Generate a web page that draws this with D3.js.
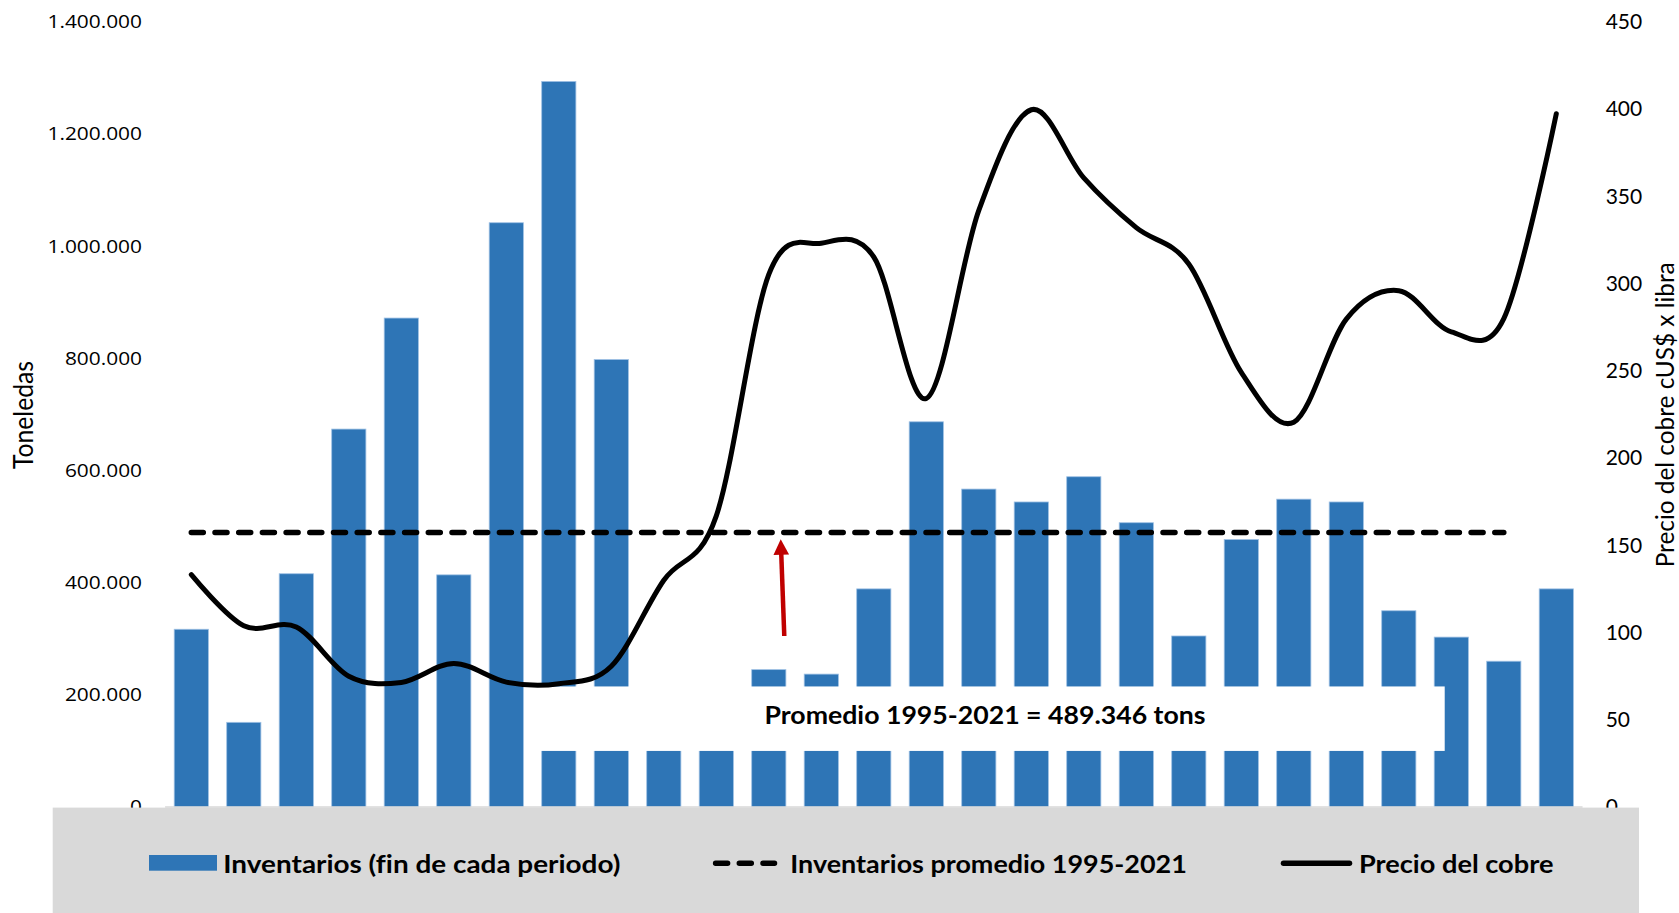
<!DOCTYPE html>
<html>
<head>
<meta charset="utf-8">
<script src="https://cdn.jsdelivr.net/npm/d3@7"></script>
<style>
  html, body { margin: 0; padding: 0; background: #ffffff; }
  svg { display: block; }
  text { font-variant-ligatures: none; font-feature-settings: "liga" 0, "clig" 0; }
</style>
</head>
<body>
<svg id="chart" width="1679" height="913"></svg>
<script>
// ---------------- DATA ----------------
const years = ["1995","1996","1997","1998","1999","2000","2001","2002","2003","2004","2005","2006","2007","2008",
               "2009","2010","2011","2012","2013","2014","2015","2016","2017","2018","2019","2020","2021"];
// Inventarios (fin de cada periodo), toneladas
const inventories = [317000, 151000, 416000, 674000, 872000, 414000, 1042000, 1294000, 798000, 130000, 160000,
                     245000, 237000, 389000, 687000, 567000, 544000, 589000, 507000, 305000, 477000, 549000,
                     544000, 350000, 303000, 260000, 389000];
// Precio del cobre, cUS$ x libra
const copperPrice = [133.2, 103.9, 103.2, 75.0, 71.4, 82.3, 71.6, 70.7, 80.7, 130.0, 166.9, 305.3, 323.2, 315.3,
                     234.2, 342.0, 399.7, 360.6, 332.1, 311.3, 249.2, 220.6, 279.7, 296.0, 272.4, 280.0, 397.4];
// Inventarios promedio 1995-2021 (line drawn across 1995-2020 categories, as in the source)
const averageInventory = 489346;
const averageYears = years.slice(0, 26);
const leftTicks = [0, 200000, 400000, 600000, 800000, 1000000, 1200000, 1400000];
const rightTicks = [0, 50, 100, 150, 200, 250, 300, 350, 400, 450];
const leftTitle = "Toneledas";
const rightTitle = "Precio del cobre cUS$ x libra";
const annotationText = "Promedio 1995-2021 = 489.346 tons";
const annotationRange = [100000, 215000];       // inventory units covered by the label box
const arrowFrom = { year: "2006", value: 305000 };
const arrowTo   = { year: "2006", value: averageInventory };
const legendLabels = ["Inventarios (fin de cada periodo)", "Inventarios promedio 1995-2021", "Precio del cobre"];

// ---------------- LAYOUT ----------------
const svg = d3.select("#chart");
const W = 1679, H = 913;
const plot = { left: 165.05, right: 1582.55, top: 22, bottom: 807 };
const barColor = "#2e75b6";
const darkRed = "#c00000";

const x = d3.scaleBand().domain(years).range([plot.left, plot.right]).paddingInner(0.349).paddingOuter(0.1745);
const yL = d3.scaleLinear().domain([0, 1400000]).range([plot.bottom, plot.top]);
const yR = d3.scaleLinear().domain([0, 450]).range([plot.bottom, plot.top]);
const cx = d => x(d) + x.bandwidth() / 2;

svg.append("rect").attr("width", W).attr("height", H).attr("fill", "#ffffff");

// Bars
svg.append("g").selectAll("rect")
  .data(years.map((y, i) => ({ year: y, v: inventories[i] })))
  .join("rect")
  .attr("x", d => x(d.year))
  .attr("width", x.bandwidth())
  .attr("y", d => yL(d.v))
  .attr("height", d => yL(0) - yL(d.v))
  .attr("fill", barColor)
  .attr("stroke", "#9ec0e4")
  .attr("stroke-width", 0.8);

// Category axis line
svg.append("line")
  .attr("x1", plot.left).attr("x2", plot.right)
  .attr("y1", yL(0)).attr("y2", yL(0))
  .attr("stroke", "#d9d9d9").attr("stroke-width", 1.5);

// White label box (annotation)
const boxLeft = x("2001") + x.bandwidth() + 1.8;
const boxRight = x("2019") + 10.5;
svg.append("rect")
  .attr("x", boxLeft).attr("width", boxRight - boxLeft)
  .attr("y", yL(annotationRange[1])).attr("height", yL(annotationRange[0]) - yL(annotationRange[1]))
  .attr("fill", "#ffffff");

svg.append("text")
  .attr("x", 985).attr("y", yL(annotationRange[0]) - 26.5)
  .attr("text-anchor", "middle")
  .attr("font-family", "Lato, 'Open Sans', sans-serif")
  .attr("font-weight", 700)
  .attr("font-size", 24)
  .attr("fill", "#000")
  .text(annotationText)
  .attr("textLength", 441).attr("lengthAdjust", "spacingAndGlyphs");

// Average dashed line
svg.append("path")
  .datum(averageYears)
  .attr("d", d3.line().x(d => cx(d)).y(() => yL(averageInventory)))
  .attr("fill", "none")
  .attr("stroke", "#000")
  .attr("stroke-width", 5.5)
  .attr("stroke-linecap", "round")
  .attr("stroke-dasharray", "12,11.7");

// Price line
svg.append("path")
  .datum(years.map((y, i) => ({ year: y, v: copperPrice[i] })))
  .attr("d", d3.line().curve(d3.curveCatmullRom.alpha(0)).x(d => cx(d.year)).y(d => yR(d.v)))
  .attr("fill", "none")
  .attr("stroke", "#000")
  .attr("stroke-width", 5)
  .attr("stroke-linecap", "round")
  .attr("stroke-linejoin", "round");

// Red arrow
{
  const x0 = cx(arrowFrom.year) + 0.295 * x.step(), y0 = yL(arrowFrom.value);
  const x1 = cx(arrowTo.year) + 0.227 * x.step(), y1 = yL(arrowTo.value) + 6.6;
  const dx = x1 - x0, dy = y1 - y0, len = Math.hypot(dx, dy);
  const ux = dx / len, uy = dy / len, px = -uy, py = ux;
  const headLen = 15.5, headHalf = 7.8;
  const bx = x1 - ux * headLen, by = y1 - uy * headLen;
  svg.append("line")
    .attr("x1", x0).attr("y1", y0).attr("x2", bx + ux * 1).attr("y2", by + uy * 1)
    .attr("stroke", darkRed).attr("stroke-width", 4.5);
  svg.append("path")
    .attr("d", `M${x1},${y1}L${bx + px * headHalf},${by + py * headHalf}L${bx - px * headHalf},${by - py * headHalf}Z`)
    .attr("fill", darkRed);
}

// Left axis
const fmt = d => d3.format(",")(d).replace(/,/g, ".");
const gL = svg.append("g").attr("transform", `translate(150,0)`)
  .call(d3.axisLeft(yL).tickValues(leftTicks).tickSize(0).tickPadding(8).tickFormat(fmt));
gL.select(".domain").remove();
gL.selectAll("text")
  .attr("font-family", "'Open Sans', sans-serif")
  .attr("font-size", 18)
  .attr("fill", "#000")
  .each(function () {
    const L = this.getComputedTextLength();
    d3.select(this).attr("textLength", L * 1.16).attr("lengthAdjust", "spacingAndGlyphs");
  });

// Right axis
const gR = svg.append("g").attr("transform", `translate(1597,0)`)
  .call(d3.axisRight(yR).tickValues(rightTicks).tickSize(0).tickPadding(8.7));
gR.select(".domain").remove();
gR.selectAll("text")
  .attr("font-family", "Lato, sans-serif")
  .attr("font-size", 21)
  .attr("fill", "#000");

// Axis titles
svg.append("text")
  .attr("transform", `translate(33,${(plot.top + plot.bottom) / 2 + 0.5}) rotate(-90)`)
  .attr("text-anchor", "middle")
  .attr("font-family", "Lato, sans-serif")
  .attr("font-size", 26)
  .attr("fill", "#000")
  .text(leftTitle)
  .attr("textLength", 108).attr("lengthAdjust", "spacingAndGlyphs");

svg.append("text")
  .attr("transform", `translate(1673.5,${(plot.top + plot.bottom) / 2 + 0.3}) rotate(-90)`)
  .attr("text-anchor", "middle")
  .attr("font-family", "Lato, sans-serif")
  .attr("font-size", 25)
  .attr("fill", "#000")
  .text(rightTitle)
  .attr("textLength", 305).attr("lengthAdjust", "spacingAndGlyphs");

// Legend box
svg.append("rect")
  .attr("x", 52.7).attr("y", 807.6).attr("width", 1639 - 52.7).attr("height", H - 807.6)
  .attr("fill", "#d9d9d9");

const legY = 863.2, legBase = 872.6;
const lg = svg.append("g");
lg.append("rect").attr("x", 149).attr("y", 855).attr("width", 68).attr("height", 15.7).attr("fill", barColor);
lg.append("line").attr("x1", 715.6).attr("x2", 774.5).attr("y1", legY).attr("y2", legY)
  .attr("stroke", "#000").attr("stroke-width", 5.5).attr("stroke-linecap", "round").attr("stroke-dasharray", "12,11.7");
lg.append("line").attr("x1", 1283.5).attr("x2", 1349.5).attr("y1", legY).attr("y2", legY)
  .attr("stroke", "#000").attr("stroke-width", 5.5).attr("stroke-linecap", "round");
const legText = [
  { t: legendLabels[0], x: 223.3, w: 397 },
  { t: legendLabels[1], x: 790.3, w: 396.5 },
  { t: legendLabels[2], x: 1358.9, w: 194.5 }
];
lg.selectAll("text.leg").data(legText).join("text")
  .attr("class", "leg")
  .attr("x", d => d.x).attr("y", legBase)
  .attr("font-family", "Lato, 'Open Sans', sans-serif")
  .attr("font-weight", 700)
  .attr("font-size", 25.5)
  .attr("fill", "#000")
  .attr("textLength", d => d.w).attr("lengthAdjust", "spacingAndGlyphs")
  .text(d => d.t);
</script>
</body>
</html>
